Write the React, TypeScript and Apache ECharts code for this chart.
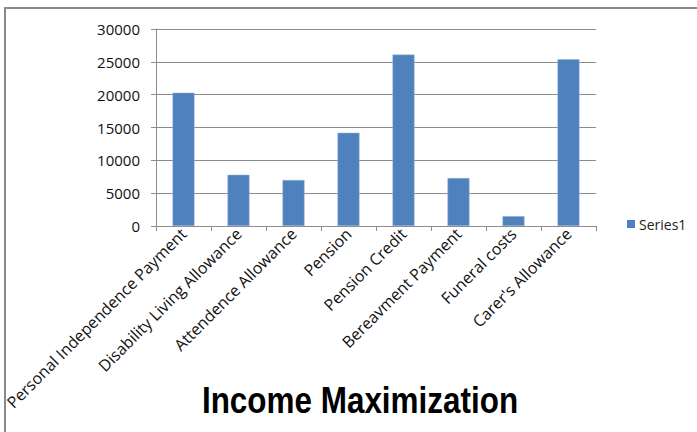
import React, { useEffect, useRef } from "react";
import * as echarts from "echarts";

const categories = [
  "Personal Independence Payment",
  "Disability Living Allowance",
  "Attendence Allowance",
  "Pension",
  "Pension Credit",
  "Bereavment Payment",
  "Funeral costs",
  "Carer's Allowance",
];
const series1 = [20300, 7800, 7000, 14200, 26100, 7300, 1500, 25400];
const yTicks = { min: 0, max: 30000, interval: 5000 };
const seriesName = "Series1";
const titleText = "Income Maximization";

const font = "'Open Sans', sans-serif";

export default function App() {
  const ref = useRef<HTMLDivElement>(null);
  useEffect(() => {
    const chart = echarts.init(ref.current!, undefined, { renderer: "svg" });
    chart.setOption({
      animation: false,
      backgroundColor: "#fff",
      legend: {
        data: [seriesName],
        left: 622,
        top: 212,
        itemWidth: 8,
        itemHeight: 8,
        itemGap: 5,
        icon: "rect",
        itemStyle: { borderWidth: 0 },
        textStyle: { fontFamily: font, fontSize: 14, color: "#222", padding: [0, 0, 0, -1] },
      },
      graphic: [
        {
          type: "rect",
          shape: { x: 5, y: 8, width: 720, height: 460 },
          style: { fill: "none", stroke: "#8a8a8a", lineWidth: 2 },
          silent: true,
        },
        {
          type: "text",
          x: 360,
          y: 400,
          scaleX: 0.85,
          style: {
            text: titleText,
            x: 0,
            y: 0,
            align: "center",
            verticalAlign: "middle",
            fontFamily: "'Liberation Sans', sans-serif",
            fontWeight: "bold",
            fontSize: 37,
            fill: "#000",
          },
          silent: true,
        },
      ],
      grid: { left: 156, top: 29, right: 101, bottom: 206 },
      xAxis: {
        type: "category",
        data: categories,
        boundaryGap: true,
        axisLine: { lineStyle: { color: "#8c8c8c", width: 1 } },
        axisTick: { show: true, length: 5, lineStyle: { color: "#8c8c8c" } },
        axisLabel: {
          rotate: 45,
          interval: 0,
          margin: 5,
          fontFamily: font,
          fontSize: 16,
          color: "#111",
        },
      },
      yAxis: {
        type: "value",
        min: yTicks.min,
        max: yTicks.max,
        interval: yTicks.interval,
        axisLine: { show: true, lineStyle: { color: "#8c8c8c" } },
        axisTick: { show: true, length: 5, lineStyle: { color: "#8c8c8c" } },
        splitLine: { lineStyle: { color: "#8c8c8c" } },
        axisLabel: {
          margin: 16,
          formatter: (v: number) => String(v),
          fontFamily: font,
          fontSize: 15,
          color: "#111",
        },
      },
      series: [
        {
          name: seriesName,
          type: "bar",
          data: series1,
          barWidth: "40%",
          itemStyle: { color: "#4F81BD", borderColor: "#9ab5d8", borderWidth: 0.5 },
        },
      ],
    });
    return () => chart.dispose();
  }, []);
  return (
    <div
      ref={ref}
      style={{ position: "absolute", left: 0, top: 0, width: 697, height: 432 }}
    />
  );
}
